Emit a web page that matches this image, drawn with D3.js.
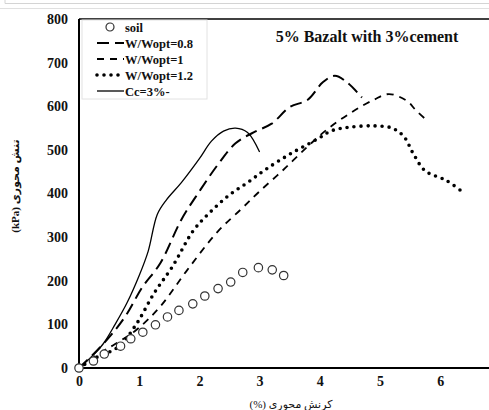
<!DOCTYPE html>
<html>
<head>
<meta charset="utf-8">
<script src="https://cdn.jsdelivr.net/npm/d3@7"></script>
<style>
  body { margin: 0; background: #fff; }
  svg { display: block; font-family: "Liberation Serif", "Times New Roman", serif; }
  .tick-label { font-size: 14px; font-weight: bold; fill: #111; }
  .legend--text { font-size: 12.5px; font-weight: bold; fill: #111; }
</style>
</head>
<body>
<div id="graphic"></div>
<script>
// strain (%) vs axial stress (kPa)
const soil = [[0,0],[0.24,16],[0.42,32],[0.69,50],[0.86,67],[1.06,82],[1.27,99],[1.47,117],[1.66,132],[1.89,147],[2.09,165],[2.31,182],[2.52,197],[2.72,219],[2.98,230],[3.21,225],[3.40,212]];
const wOpt08 = [[0,0],[0.3,40],[0.6,87],[0.8,125],[1.05,185],[1.35,240],[1.7,340],[2.0,405],[2.3,465],[2.6,515],[2.9,540],[3.2,560],[3.5,598],[3.8,615],[4.05,655],[4.25,670],[4.45,655],[4.7,620]];
const wOpt10 = [[0,0],[0.3,30],[0.6,55],[0.95,87],[1.35,141],[1.8,225],[2.3,312],[2.7,365],[3.0,405],[3.4,455],[3.8,508],[4.15,550],[4.55,588],[4.9,615],[5.15,628],[5.45,612],[5.6,590],[5.8,565]];
const wOpt12 = [[0,0],[0.3,25],[0.65,48],[0.95,100],[1.25,172],[1.55,232],[1.9,315],[2.2,360],[2.5,397],[2.8,425],[3.1,455],[3.5,490],[3.95,524],[4.2,544],[4.5,552],[4.9,555],[5.2,550],[5.4,530],[5.55,492],[5.75,452],[6.1,430],[6.33,408]];
const cement3 = [[0,0],[0.2,25],[0.4,55],[0.6,100],[0.8,150],[1.0,212],[1.15,268],[1.3,352],[1.45,385],[1.7,425],[2.0,480],[2.2,520],[2.4,543],[2.6,550],[2.8,540],[3.0,495]];

const xTicks = [0, 1, 2, 3, 4, 5, 6];
const yTicks = [0, 100, 200, 300, 400, 500, 600, 700, 800];
const legendLabels = ["soil", "W/Wopt=0.8", "W/Wopt=1", "W/Wopt=1.2", "Cc=3%-"];
const titleText = "5% Bazalt with 3%cement";
const yLabel = "(kPa) تنش محوری";
const xLabel = "\u200E(%)\u200E کرنش محوری";

const width = 489, height = 410;
const margin = { top: 19, left: 79, bottom: 42 };

const svg = d3.select("#graphic").append("svg")
  .attr("width", width).attr("height", height);

// faint frame lines at the very top of the picture
svg.append("line").attr("x1", 5).attr("x2", width).attr("y1", 3.5).attr("y2", 3.5)
  .attr("stroke", "#d4d4d4");
svg.append("line").attr("x1", 5).attr("x2", 5).attr("y1", 0).attr("y2", 3.5)
  .attr("stroke", "#d4d4d4");
svg.append("line").attr("x1", 0).attr("x2", width).attr("y1", 8.5).attr("y2", 8.5)
  .attr("stroke", "#e0e0e0");

const x = d3.scaleLinear().domain([0, 7]).range([margin.left, margin.left + 7 * 60.2]);
const y = d3.scaleLinear().domain([0, 800]).range([height - margin.bottom, margin.top]);

// axes (no tick marks, just bold labels)
const yAxis = d3.axisLeft(y).tickValues(yTicks).tickSize(0).tickPadding(11).tickFormat(d3.format("d"));
const xAxis = d3.axisBottom(x).tickValues(xTicks).tickSize(0).tickPadding(8).tickFormat(d3.format("d"));

svg.append("g").attr("transform", `translate(${margin.left},0)`).call(yAxis)
  .attr("font-family", null).attr("font-size", null)
  .call(g => g.select(".domain").remove())
  .selectAll("text").attr("class", "tick-label");
svg.append("g").attr("transform", `translate(0,${y(0)})`).call(xAxis)
  .attr("font-family", null).attr("font-size", null)
  .call(g => g.select(".domain").remove())
  .selectAll("text").attr("class", "tick-label");

// plot frame
svg.append("line").attr("x1", x(0)).attr("x2", width).attr("y1", y(800)).attr("y2", y(800))
  .attr("stroke", "#000").attr("stroke-width", 1.6);
svg.append("line").attr("x1", x(0)).attr("x2", x(0)).attr("y1", y(800)).attr("y2", y(0))
  .attr("stroke", "#000").attr("stroke-width", 2);
svg.append("line").attr("x1", x(0)).attr("x2", width).attr("y1", y(0)).attr("y2", y(0))
  .attr("stroke", "#000").attr("stroke-width", 2);

const line = d3.line().x(d => x(d[0])).y(d => y(d[1])).curve(d3.curveCatmullRom);

const series = [
  { data: wOpt08, dash: "12,6", width: 2, cap: "butt" },
  { data: wOpt10, dash: "7,6", width: 1.8, cap: "butt" },
  { data: wOpt12, dash: "0,7", width: 3.6, cap: "round" },
  { data: cement3, dash: null, width: 1.3, cap: "butt" }
];

svg.append("g").selectAll("path").data(series).join("path")
  .attr("d", d => line(d.data))
  .attr("fill", "none")
  .attr("stroke", "#000")
  .attr("stroke-width", d => d.width)
  .attr("stroke-dasharray", d => d.dash)
  .attr("stroke-linecap", d => d.cap);

svg.append("g").selectAll("circle").data(soil).join("circle")
  .attr("cx", d => x(d[0])).attr("cy", d => y(d[1])).attr("r", 4.2)
  .attr("fill", "#fff").attr("stroke", "#333").attr("stroke-width", 1.2);

// legend
const legend = svg.append("g").attr("transform", "translate(82,20)");
legend.append("rect").attr("width", 125).attr("height", 79)
  .attr("fill", "#fff").attr("stroke", "#e2e2e2");

const rows = legend.selectAll("g").data(legendLabels).join("g")
  .attr("transform", (d, i) => `translate(0,${7 + i * 16})`);

rows.append("text").attr("class", "legend--text")
  .attr("x", 43).attr("y", 4.5).text(d => d);

rows.filter((d, i) => i === 0).append("circle")
  .attr("cx", 28).attr("cy", 0).attr("r", 4)
  .attr("fill", "#fff").attr("stroke", "#333").attr("stroke-width", 1.2);

rows.filter((d, i) => i > 0).append("line")
  .attr("x1", 15).attr("x2", 42).attr("y1", 0).attr("y2", 0)
  .attr("stroke", "#000")
  .attr("stroke-width", (d, i) => series[i].width)
  .attr("stroke-dasharray", (d, i) => series[i].dash)
  .attr("stroke-linecap", (d, i) => series[i].cap);

// title
svg.append("text").attr("x", 367).attr("y", 42)
  .attr("text-anchor", "middle").attr("font-size", 16).attr("font-weight", "bold")
  .attr("fill", "#111").text(titleText);

// axis labels
svg.append("text")
  .attr("transform", `translate(19,186) rotate(-90)`)
  .attr("text-anchor", "middle").attr("font-size", 11).attr("font-weight", "bold")
  .attr("font-family", "'Liberation Serif', 'DejaVu Sans', serif")
  .attr("fill", "#111").text(yLabel);

svg.append("text").attr("x", 291).attr("y", 408)
  .attr("text-anchor", "middle").attr("font-size", 11)
  .attr("font-family", "'Liberation Serif', 'DejaVu Sans', serif")
  .attr("fill", "#111").text(xLabel);
</script>
</body>
</html>
